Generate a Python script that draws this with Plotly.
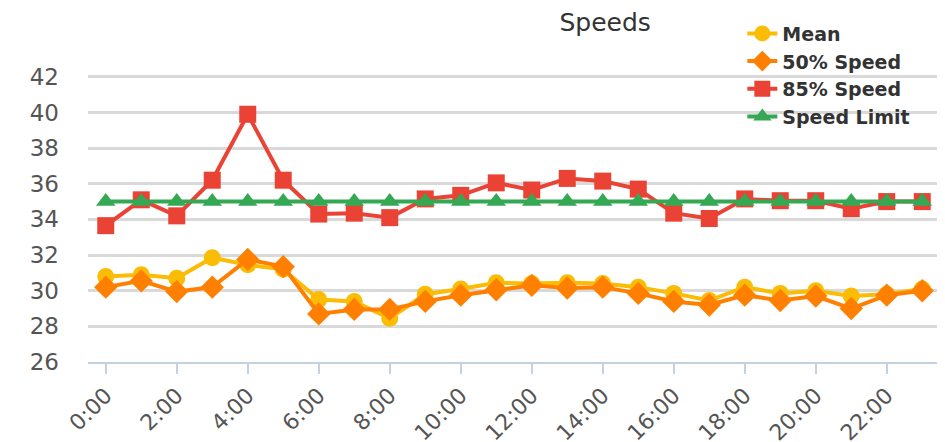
import plotly.graph_objects as go

hours = [f"{h}:00" for h in range(24)]
mean_speed = [30.8, 30.9, 30.7, 31.85, 31.45, 31.2, 29.5, 29.4, 28.45, 29.8, 30.1, 30.45,
              30.4, 30.45, 30.4, 30.2, 29.85, 29.45, 30.2, 29.85, 30.0, 29.7, 29.8, 30.1]
p50_speed = [30.2, 30.55, 29.95, 30.2, 31.75, 31.35, 28.7, 28.95, 28.95, 29.4, 29.75, 30.05,
             30.3, 30.15, 30.2, 29.85, 29.4, 29.2, 29.75, 29.45, 29.7, 29.0, 29.75, 30.0]
p85_speed = [33.65, 35.1, 34.2, 36.2, 39.9, 36.2, 34.3, 34.35, 34.1, 35.15, 35.35, 36.05,
             35.65, 36.3, 36.15, 35.7, 34.35, 34.05, 35.15, 35.05, 35.05, 34.6, 35.0, 35.0]
speed_limit = [35] * 24

series = [
    ("Mean", mean_speed, "#FBBC05", "circle"),
    ("50% Speed", p50_speed, "#FF8000", "diamond"),
    ("85% Speed", p85_speed, "#EA4335", "square"),
    ("Speed Limit", speed_limit, "#34A853", "triangle-up"),
]

fig = go.Figure()
for name, vals, color, sym in series:
    fig.add_trace(go.Scatter(
        x=hours, y=vals, name=name, mode="lines+markers",
        line=dict(color=color, width=4),
        marker=dict(symbol=sym, size=17 if sym != "diamond" else 18, color=color),
    ))

fig.add_shape(type="rect", xref="paper", yref="paper", x0=0.742, x1=1.0, y0=0.655, y1=1.0,
              fillcolor="white", line=dict(width=0), layer="between")

# page body has an 8px margin, so the figure is sized to fit the 945x442 window
fig.update_layout(
    width=937, height=434,
    margin=dict(l=80, r=5, t=51, b=80, autoexpand=False),
    paper_bgcolor="white", plot_bgcolor="white",
    font=dict(family="DejaVu Sans", color="#555555"),
    title=dict(text="Speeds", x=0.607, xref="paper", xanchor="center",
               y=0.968, yref="container", yanchor="middle",
               font=dict(size=25, color="#333333", family="DejaVu Sans")),
    legend=dict(x=0.768, xanchor="left", y=0.947, yanchor="middle",
                bgcolor="rgba(0,0,0,0)",
                font=dict(size=19, color="#333333", family="DejaVu Sans", weight="bold"),
                tracegroupgap=0),
    xaxis=dict(type="category", range=[-0.5, 23.5], dtick=2, tickangle=-45,
               showgrid=False, showline=True, linecolor="#C3D1E2", linewidth=2,
               ticks="outside", ticklen=10, tickwidth=2, tickcolor="#C3D1E2",
               tickfont=dict(size=22, color="#555555"), zeroline=False, automargin=False),
    yaxis=dict(range=[26, 43], tickvals=[26, 28, 30, 32, 34, 36, 38, 40, 42],
               showgrid=True, gridcolor="#D9D9D9", gridwidth=2.5, zeroline=False,
               showline=False, ticks="", ticklabelstandoff=28, automargin=False,
               tickfont=dict(size=23, color="#555555")),
    showlegend=True,
)

fig.write_html("out.html")
